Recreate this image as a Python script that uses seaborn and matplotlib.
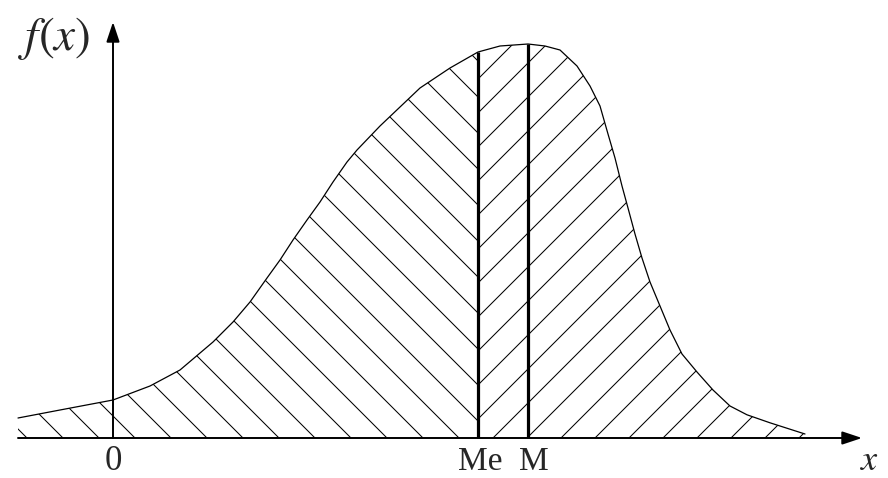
import numpy as np
import matplotlib
matplotlib.use("Agg")
import matplotlib.pyplot as plt
from matplotlib.patches import Polygon
from matplotlib.collections import LineCollection
import seaborn as sns

# density curve (x: arbitrary units, 0 at the y axis)
x_vals = [-0.95, -0.53, 0.00, 0.37, 0.67, 1.00, 1.20, 1.37, 1.54, 1.67, 1.80,
          1.94, 2.07, 2.20, 2.34, 2.44, 2.67, 3.07, 3.37, 3.65, 3.87, 4.15,
          4.32, 4.47, 4.64, 4.77, 4.87, 4.95, 5.02, 5.09, 5.15, 5.22, 5.29,
          5.37, 5.47, 5.57, 5.69, 5.84, 6.00, 6.17, 6.34, 6.57, 6.92]
f_vals = [0.050, 0.070, 0.095, 0.130, 0.170, 0.240, 0.290, 0.340, 0.400, 0.445,
          0.495, 0.545, 0.590, 0.640, 0.690, 0.720, 0.780, 0.875, 0.925, 0.965,
          0.980, 0.985, 0.980, 0.970, 0.930, 0.880, 0.830, 0.760, 0.700, 0.630,
          0.575, 0.510, 0.450, 0.390, 0.330, 0.270, 0.210, 0.165, 0.120, 0.080,
          0.058, 0.038, 0.010]
median_x = 3.65
mode_x = 4.15
labels = ["0", "Me", "M"]

x = np.array(x_vals)
f = np.array(f_vals)

sns.set_theme(style="white")
plt.rcParams["mathtext.fontset"] = "stix"
plt.rcParams["font.family"] = ["Liberation Serif", "DejaVu Serif"]

fig = plt.figure(figsize=(8.88, 4.78), dpi=100)
ax = fig.add_axes([0, 0, 1, 1])
ax.set_xlim(-1.13, 7.75)
ax.set_ylim(-0.10, 1.095)
ax.axis("off")

# pixels per data unit, so the hatching is drawn at 45 degrees on screen
sx = fig.get_figwidth() * fig.dpi / (ax.get_xlim()[1] - ax.get_xlim()[0])
sy = fig.get_figheight() * fig.dpi / (ax.get_ylim()[1] - ax.get_ylim()[0])
k = sx / sy


def hatch(xs, fs, start, step, sign):
    # region under the curve between xs[0] and xs[-1]
    verts = np.column_stack([np.r_[xs, xs[-1], xs[0]], np.r_[fs, 0, 0]])
    region = Polygon(verts, closed=True, facecolor="none", edgecolor="none")
    ax.add_patch(region)
    h = 1.2 / k
    c0 = start - step * np.ceil((start - xs[0] + h) / step)
    cs = np.arange(c0, xs[-1] + h + step, step)
    segs = [[(c, 0), (c - sign * h, 1.2)] for c in cs]
    lc = LineCollection(segs, colors="black", linewidths=0.75)
    lc.set_clip_path(region)
    ax.add_collection(lc)


left = x <= median_x
right = x >= median_x
hatch(x[left], f[left], 0.22, 0.36, 1)     # "\" left of the median
hatch(x[right], f[right], 3.80, 0.34, -1)  # "/" right of it

sns.lineplot(x=x, y=f, color="black", linewidth=0.9, ax=ax,
             sort=False, estimator=None)

# median and mode lines
f_me = np.interp(median_x, x, f)
f_mo = np.interp(mode_x, x, f)
ax.vlines([median_x, mode_x], 0, [f_me, f_mo], color="black", linewidth=2.3)

# axes with arrows
arrow = dict(arrowstyle="-|>,head_length=0.6,head_width=0.2", color="black",
             lw=1.4, shrinkA=0, shrinkB=0, mutation_scale=20)
ax.annotate("", xy=(7.49, 0), xytext=(x[0], 0), arrowprops=arrow)
ax.annotate("", xy=(0, 1.04), xytext=(0, 0), arrowprops=arrow)

# labels
ax.text(0, -0.06, labels[0], ha="center", va="center", fontsize=25)
ax.text(median_x + 0.02, -0.06, labels[1], ha="center", va="center", fontsize=24)
ax.text(mode_x + 0.06, -0.06, labels[2], ha="center", va="center", fontsize=24)
ax.text(7.57, -0.06, "$x$", ha="center", va="center", fontsize=26)
ax.text(-0.59, 1.0, "$f(x)$", ha="center", va="center", fontsize=34)

fig.savefig("out.png", dpi=100)
